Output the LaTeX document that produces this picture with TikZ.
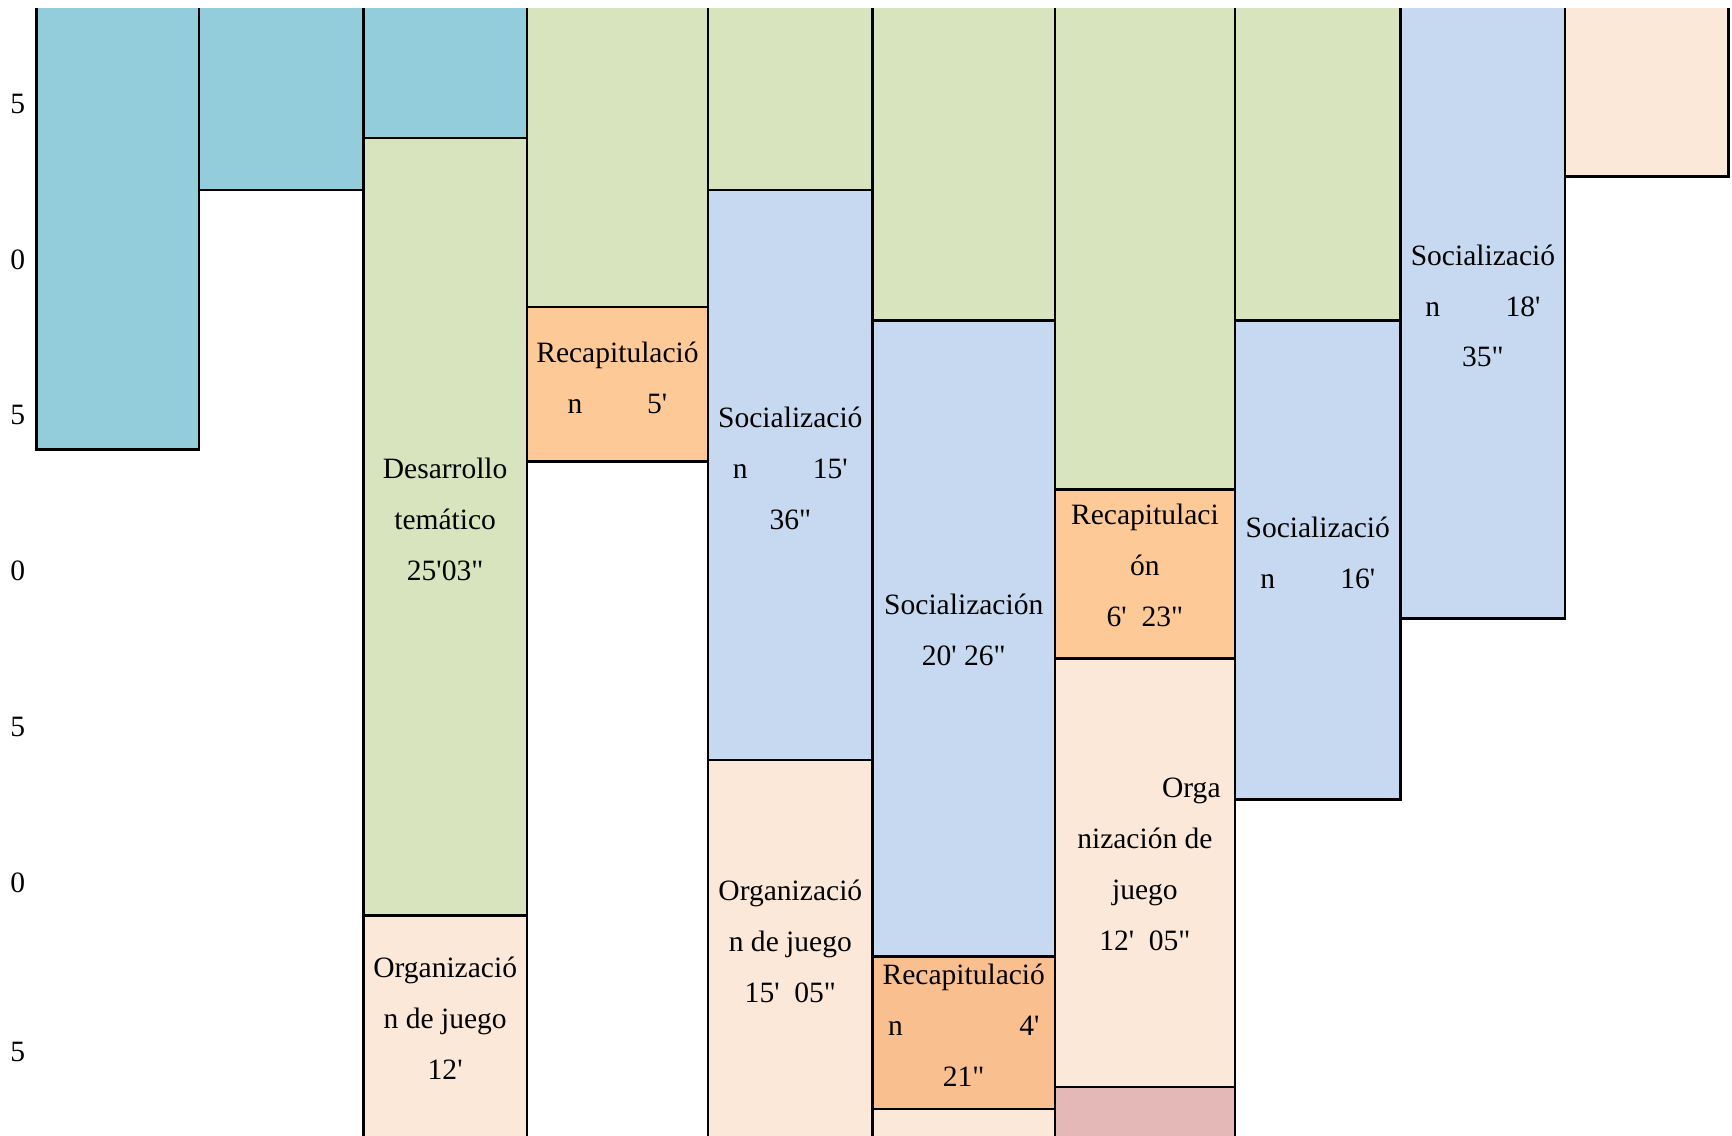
\documentclass[tikz,border=0pt]{standalone}
\usepackage{fontspec}
\setmainfont{Liberation Serif}[Ligatures=TeXOff]
\definecolor{barAqua}{HTML}{93CDDC}
\definecolor{barGreen}{HTML}{D8E4BD}
\definecolor{barBlue}{HTML}{C6D9F0}
\definecolor{barOrange}{HTML}{FDCA97}
\definecolor{barOrangeDk}{HTML}{F9BF8F}
\definecolor{barPeach}{HTML}{FBE8D9}
\definecolor{barPink}{HTML}{E5B8B8}
\begin{document}
\begin{tikzpicture}[x=0.01cm,y=-0.01cm,
    bar/.style={draw=black,line width=0.65pt},
    lbl/.style={align=center,inner sep=0pt,font=\fontsize{7.6}{13.1}\selectfont}]
  \useasboundingbox (0,0) rectangle (1568,1028);
  \begin{scope}
    \clip (0,8) rectangle (1568,1028);
    % column 1 and 2
    \draw[bar,fill=barAqua] (33,-10) rectangle (180,407);
    \draw[bar,fill=barAqua] (180,-10) rectangle (329,172);
    % column 3
    \draw[bar,fill=barAqua] (329,-10) rectangle (477,125);
    \draw[bar,fill=barGreen] (329,125) rectangle (477,829);
    \draw[bar,fill=barPeach] (329,829) rectangle (477,1045);
    % column 4
    \draw[bar,fill=barGreen] (477,-10) rectangle (641,278);
    \draw[bar,fill=barOrange] (477,278) rectangle (641,418);
    % column 5
    \draw[bar,fill=barGreen] (641,-10) rectangle (790,172);
    \draw[bar,fill=barBlue] (641,172) rectangle (790,688);
    \draw[bar,fill=barPeach] (641,688) rectangle (790,1045);
    % column 6
    \draw[bar,fill=barGreen] (790,-10) rectangle (955,290);
    \draw[bar,fill=barBlue] (790,290) rectangle (955,866);
    \draw[bar,fill=barOrangeDk] (790,866) rectangle (955,1004);
    \draw[bar,fill=barPeach] (790,1004) rectangle (955,1045);
    % column 7
    \draw[bar,fill=barGreen] (955,-10) rectangle (1118,443);
    \draw[bar,fill=barOrange] (955,443) rectangle (1118,596);
    \draw[bar,fill=barPeach] (955,596) rectangle (1118,984);
    \draw[bar,fill=barPink] (955,984) rectangle (1118,1045);
    % column 8 to 10
    \draw[bar,fill=barGreen] (1118,-10) rectangle (1268,290);
    \draw[bar,fill=barBlue] (1118,290) rectangle (1268,724);
    \draw[bar,fill=barBlue] (1268,-10) rectangle (1417,560);
    \draw[bar,fill=barPeach] (1417,-10) rectangle (1565,160);
  \end{scope}
  % axis
  \node[lbl] (tickA) at (16,94) {5};
  \node[lbl] (tickB) at (16,235) {0};
  \node[lbl] (tickC) at (16,376) {5};
  \node[lbl] (tickD) at (16,517) {0};
  \node[lbl] (tickE) at (16,658) {5};
  \node[lbl] (tickF) at (16,799) {0};
  \node[lbl] (tickG) at (16,952) {5};
  % labels
  \node[lbl] (desarrollo) at (403,470) {Desarrollo\\tem\'atico\\25'03"};
  \node[lbl] (orgA) at (403,922) {Organizaci\'o\\n de juego\\12'};
  \node[lbl] (recapA) at (559,342) {Recapitulaci\'o\\\makebox[0.9cm]{n\hfill 5'}};
  \node[lbl] (socA) at (715.5,424) {Socializaci\'o\\\makebox[1.04cm]{n\hfill 15'}\\36"};
  \node[lbl] (orgB) at (715.5,852) {Organizaci\'o\\n de juego\\15'~~05"};
  \node[lbl] (socB) at (872.5,570.5) {Socializaci\'on\\20' 26"};
  \node[lbl] (recapB) at (872.5,928) {Recapitulaci\'o\\\makebox[1.37cm]{n\hfill 4'}\\21"};
  \node[lbl] (recapC) at (1036.5,512) {Recapitulaci\\\'on\\6'~~23"};
  \node[lbl] (orgC) at (1036.5,782.5) {\makebox[1.37cm][r]{Orga}\\nizaci\'on de\\juego\\12'~~05"};
  \node[lbl] (socC) at (1193,500.5) {Socializaci\'o\\\makebox[1.04cm]{n\hfill 16'}};
  \node[lbl] (socD) at (1342.5,277) {Socializaci\'o\\\makebox[1.04cm]{n\hfill 18'}\\35"};
\end{tikzpicture}
\end{document}
